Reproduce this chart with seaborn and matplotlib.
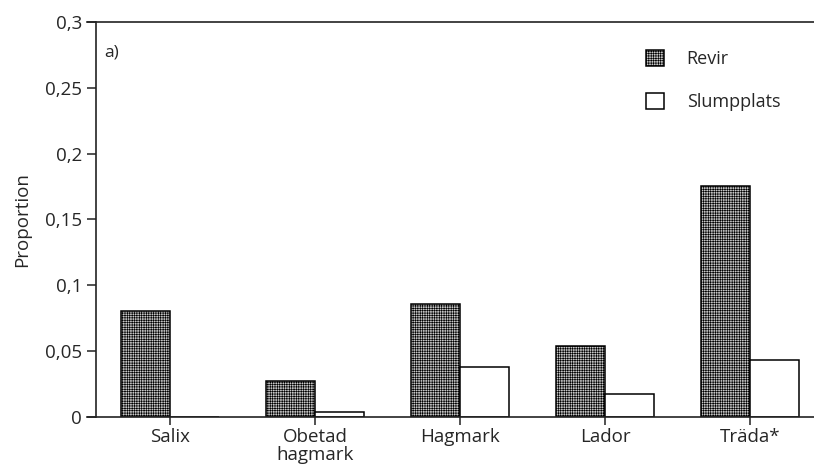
import pandas as pd
import seaborn as sns
import matplotlib.pyplot as plt
from matplotlib.patches import Patch
from matplotlib.ticker import FixedLocator

categories = ["Salix", "Obetad\nhagmark", "Hagmark", "Lador", "Träda*"]
revir = [0.0803, 0.0273, 0.0856, 0.054, 0.1755]
slumpplats = [0.0, 0.004, 0.038, 0.0172, 0.043]
groups = ["Revir", "Slumpplats"]
yticks = [0, 0.05, 0.1, 0.15, 0.2, 0.25, 0.3]
ylabels = ["0", "0,05", "0,1", "0,15", "0,2", "0,25", "0,3"]

df = pd.DataFrame({
    "kategori": categories * 2,
    "grupp": [groups[0]] * len(categories) + [groups[1]] * len(categories),
    "varde": revir + slumpplats,
})

sns.set_style("white")
plt.rcParams["font.family"] = ["Open Sans", "DejaVu Sans"]
plt.rcParams["hatch.linewidth"] = 0.45

fig = plt.figure(figsize=(8.14, 4.67), dpi=100)
ax = fig.add_axes([0.1069, 0.1071, 0.8931, 0.8458])

sns.barplot(data=df, x="kategori", y="varde", hue="grupp",
            palette=["white", "white"], width=0.67, gap=0,
            edgecolor="black", linewidth=1.1, ax=ax, legend=False)

# Revir-staplarna får rutmönster
n = len(categories)
for i, p in enumerate(ax.patches[:2 * n]):
    if i < n:
        p.set_facecolor("#c8c8c8")
        p.set_hatch("+++++++")

ax.set_xlim(-0.572, 4.441)
ax.set_ylim(0, 0.3)
ax.yaxis.set_major_locator(FixedLocator(yticks))
ax.set_yticklabels(ylabels)

for s in ["left", "bottom", "top"]:
    ax.spines[s].set_visible(True)
    ax.spines[s].set_color("#222222")
    ax.spines[s].set_linewidth(1.2)
ax.spines["right"].set_visible(False)
ax.spines["left"].set_position(("data", -0.51))

ax.tick_params(axis="y", direction="out", length=6.5, width=1.1, color="#222222",
               labelsize=13.5, pad=3.5, left=True)
ax.tick_params(axis="x", direction="out", length=6, width=1.1, color="#222222",
               labelsize=13.5, pad=2, bottom=True)
for lab in ax.get_xticklabels():
    lab.set_linespacing(1.0)
ax.set_xlabel("")
ax.set_ylabel("Proportion", fontsize=13.5, labelpad=10)

ax.text(-0.45, 0.277, "a)", fontsize=12.5, va="center")

handles = [Patch(facecolor="#c8c8c8", edgecolor="black", hatch="+++++++", linewidth=1.1),
           Patch(facecolor="white", edgecolor="black", linewidth=1.1)]
fig.legend(handles, groups, loc="upper left", bbox_to_anchor=(646 / 814, 1 - 50 / 467),
           frameon=False, fontsize=13, handlelength=1.0, handleheight=1.0,
           handletextpad=1.25, labelspacing=1.35, borderpad=0, borderaxespad=0)

fig.savefig("out.png", dpi=100)
